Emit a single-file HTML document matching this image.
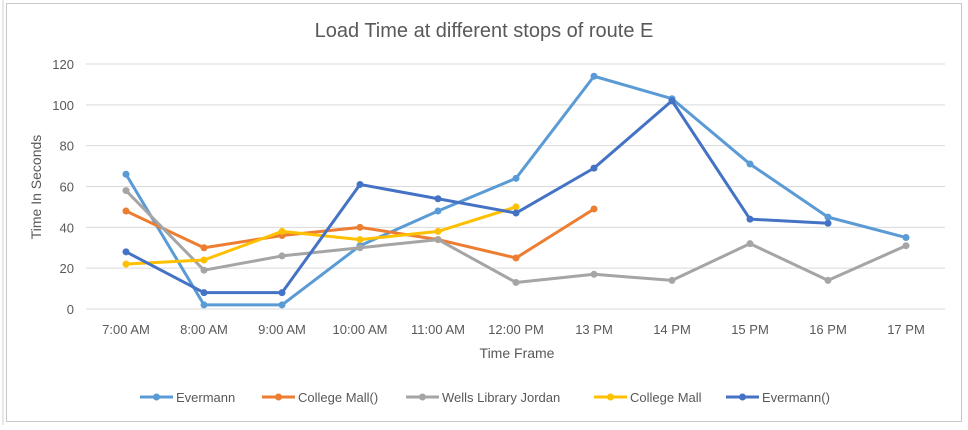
<!DOCTYPE html>
<html><head><meta charset="utf-8"><style>
body{margin:0;background:#fff;width:968px;height:425px;overflow:hidden;font-family:"Liberation Sans",sans-serif;}
svg text{font-family:"Liberation Sans",sans-serif;}
</style></head><body>
<svg id="c" width="968" height="425">
<line x1="3" y1="0" x2="3" y2="425" stroke="#d0d0d0"/>
<rect x="6.5" y="3.5" width="955" height="418" fill="#fff" stroke="#c8c8c8"/>
<text x="484" y="37" text-anchor="middle" font-size="20" fill="#595959">Load Time at different stops of route E</text>
<text x="517" y="358" text-anchor="middle" font-size="14" fill="#595959">Time Frame</text>
<text transform="translate(41,187) rotate(-90)" text-anchor="middle" font-size="14" fill="#595959">Time In Seconds</text>
<g id="grid"></g><g id="series"></g><g id="legend"></g>
</svg>
<script>
const categories=["7:00 AM","8:00 AM","9:00 AM","10:00 AM","11:00 AM","12:00 PM","13 PM","14 PM","15 PM","16 PM","17 PM"];
const yTicks=[0,20,40,60,80,100,120];
const seriesNames=["Evermann","College Mall()","Wells Library Jordan","College Mall","Evermann()"];
const evermann=[66,2,2,31,48,64,114,103,71,45,35];
const collegeMallP=[48,30,36,40,34,25,49];
const wells=[58,19,26,30,34,13,17,14,32,14,31];
const collegeMall=[22,24,38,34,38,50];
const evermannP=[28,8,8,61,54,47,69,102,44,42];
const seriesData=[evermann,collegeMallP,wells,collegeMall,evermannP];
const colors=["#5B9BD5","#ED7D31","#A5A5A5","#FFC000","#4472C4"];
const NS="http://www.w3.org/2000/svg";
const x0=86,x1=945,yTop=64,yBot=309;
const step=78;
const xs=i=>126+step*i;
const ys=v=>yBot-(v/120)*(yBot-yTop);
function el(t,a,p){const e=document.createElementNS(NS,t);for(const k in a)e.setAttribute(k,a[k]);p.appendChild(e);return e;}
const g=document.getElementById('grid');
yTicks.forEach(v=>{
 const l=el('line',{x1:x0,x2:x1,y1:ys(v),y2:ys(v),stroke:'#d9d9d9'},g);
 
 
 const t=el('text',{x:74,y:ys(v)+5,'text-anchor':'end','font-size':13,fill:'#595959'},g);
 t.textContent=v;
 
 
});
categories.forEach((c,i)=>{
 const t=el('text',{x:xs(i),y:334,'text-anchor':'middle','font-size':13,fill:'#595959'},g);
 t.textContent=c;
 
 
});
const s=document.getElementById('series');
seriesData.forEach((d,k)=>{
 const grp=el('g',{},s);
 
 
 const pl=el('polyline',{points:d.map((v,i)=>xs(i)+','+ys(v)).join(' '),fill:'none',stroke:colors[k],'stroke-width':3,'stroke-linejoin':'round'},grp);
 
 
 d.forEach((v,i)=>{
  const c=el('circle',{cx:xs(i),cy:ys(v),r:3.5,fill:colors[k]},grp);
  
  
 });
});
const L=document.getElementById('legend');
const lx=[140,262,406,594,726];
seriesNames.forEach((n,k)=>{
 const grp=el('g',{},L);
 
 
 el('line',{x1:lx[k],x2:lx[k]+33,y1:397,y2:397,stroke:colors[k],'stroke-width':3},grp);
 el('circle',{cx:lx[k]+16.5,cy:397,r:3.5,fill:colors[k]},grp);
 const t=el('text',{x:lx[k]+36,y:402,'font-size':13,fill:'#595959'},grp);
 t.textContent=n;
});
</script>
</body></html>
